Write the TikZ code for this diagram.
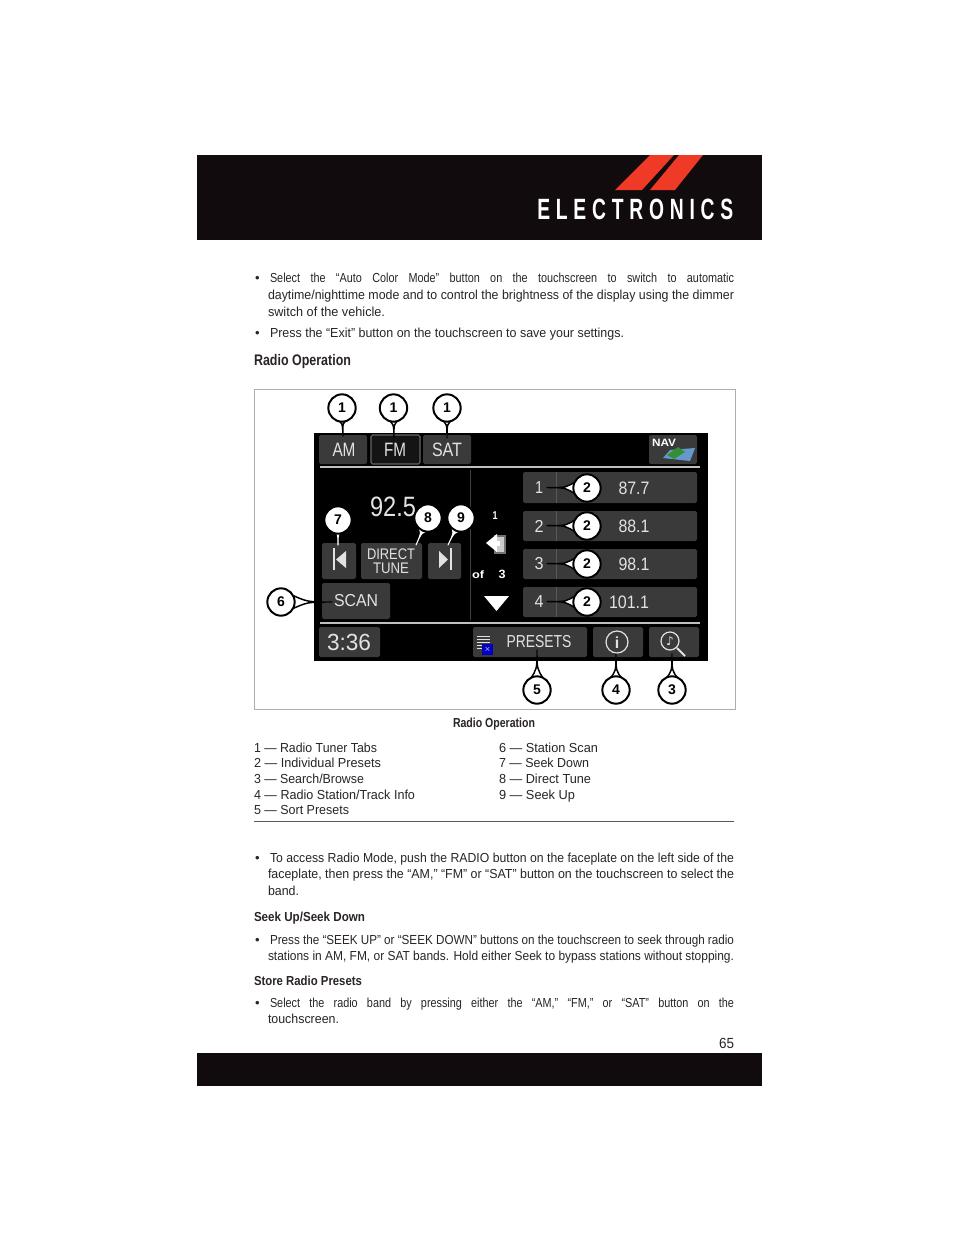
\documentclass[tikz,border=0pt]{standalone}
\usepackage{fontspec}
\usepackage{graphicx}
\setmainfont{Liberation Sans}
\newfontfamily\headfont[LetterSpace=30]{Liberation Sans Bold}
\newfontfamily\symfont{DejaVu Sans}
\usetikzlibrary{calc}
\definecolor{inkc}{HTML}{2A2426}
\definecolor{pagebk}{HTML}{120B0D}
\definecolor{redst}{HTML}{EE3A26}
\definecolor{btn}{HTML}{3A3A3A}
\definecolor{scrtext}{HTML}{E2E2E2}
\newsavebox\fitbox
\newcommand\fitw[2]{\sbox\fitbox{#2}\pgfmathsetmacro\fitr{(#1)*0.75/\the\wd\fitbox}\scalebox{\fitr}[1]{\usebox\fitbox}}
\newcommand\justw[2]{\pgfmathsetlengthmacro\justl{(#1)*0.75pt/0.83}\scalebox{0.83}[1]{\makebox[\justl][s]{#2}}}
\newcommand\tline[5]{\node[txt] (#1) at (#2,#3) {\fitw{#4-#2}{#5}};}
\newcommand\jline[5]{\node[txt] (#1) at (#2,#3) {\justw{#4-#2}{#5}};}
\newcommand\bline[5]{\node[txt] (#1) at (#2,#3) {\fitw{#4-#2}{\bfseries #5}};}
\newcommand\bul[2]{\node[txt] (#1) at (255,#2) {•};}
\newcommand\callout[5][cwedge]{%
 \coordinate (c#2) at (#3); \coordinate (t#2) at (#4);
 \draw[#1] ($(c#2)!9.4pt!36:(t#2)$) .. controls ($(c#2)!.52!(t#2)$) .. (t#2) .. controls ($(c#2)!.52!(t#2)$) .. ($(c#2)!9.4pt!-36:(t#2)$);
 \node[cnum] (n#2) at (c#2) {#5};}
\newcommand\scrtxt[5]{\node[scr,font=\fontsize{#4}{#4}\selectfont] (#1) at (#2,#3) {#5};}
\tikzset{
 txt/.style={anchor=base west,inner sep=0pt,outer sep=0pt,text=inkc,font=\fontsize{9.8}{11}\selectfont},
 btnbox/.style={fill=btn,rounded corners=1.2pt,draw=none},
 scr/.style={inner sep=0pt,outer sep=0pt,text=scrtext},
 cwedge/.style={draw=black,fill=white,line width=1.1pt,line join=round},
 wwedge/.style={draw=white,fill=white,line width=.8pt,line join=round},
 cnum/.style={circle,draw=black,fill=white,line width=1.5pt,minimum size=20.5pt,inner sep=0pt,font=\fontsize{10.5}{10.5}\selectfont\bfseries,text=black},
 icon/.style={fill=scrtext,draw=none},
}
\begin{document}
\begin{tikzpicture}[x=0.75pt,y=-0.75pt]
\useasboundingbox (0,0) rectangle (960,1242);
\fill[white] (0,0) rectangle (960,1242);
% header and footer
\fill[pagebk] (197,155) rectangle (762,240);
\fill[pagebk] (197,1053) rectangle (762,1086);
\fill[redst] (615,190) -- (650,155) -- (674,155) -- (642,190) -- cycle;
\fill[redst] (650,190) -- (679,155) -- (703,155) -- (675,190) -- cycle;
\node[anchor=base west,inner sep=0pt,text=white,font=\fontsize{22}{22}\selectfont\headfont] (title) at (537,219) {\fitw{196}{ELECTRONICS}};
\node[txt,font=\fontsize{11}{12}\selectfont] (pageno) at (719,1048) {\fitw{15}{65}};
% top text
\bul{b1}{282}
\jline{l1}{270}{282}{734}{Select the “Auto Color Mode” button on the touchscreen to switch to automatic}
\tline{l2}{268}{299}{734}{daytime/nighttime mode and to control the brightness of the display using the dimmer}
\tline{l3}{268}{316}{385}{switch of the vehicle.}
\bul{b2}{337}
\tline{l4}{270}{337}{624}{Press the “Exit” button on the touchscreen to save your settings.}
\node[txt,font=\fontsize{11.5}{12}\selectfont] (h1) at (254,365) {\fitw{97}{\bfseries Radio Operation}};
% picture frame
\draw[draw=black!32,line width=.75pt] (254,389) rectangle (735,709);
\fill[black] (313.5,433) rectangle (708,661);
\foreach \n/\xa/\ya/\xb/\yb in {a/319/435/367/464,c/423/435/471/464,d/649/435/697/464,e/523/472/697/503,f/523/511/697/541,g/523/549/697/579,h/523/587/697/617,i/322/543/356/579,j/361/543/422/579,k/428/543/461/579,l/322/583/390/619,m/319/627/380/657,n/473/627/587/657,o/593/627/643/657,p/649/627/699/657}
  \fill[btnbox] (\xa,\ya) rectangle (\xb,\yb);
\draw[black!60!white,line width=.8pt,rounded corners=1.2pt,fill=black!92] (371,435) rectangle (420,464);
\draw[black!25,line width=.9pt] (320,467) -- (700,467);
\draw[black!25,line width=.9pt] (320,623) -- (700,623);
\draw[black!75,line width=.5pt] (470,470) -- (470,620);
\foreach \y/\yy in {472/503,511/541,549/579,587/617} \draw[black!65,line width=.4pt] (556,\y) -- (556,\yy);
% screen labels
\scrtxt{tam}{344}{450}{14.5}{\fitw{23}{AM}}
\scrtxt{tfm}{395}{450}{14.5}{\fitw{22}{FM}}
\scrtxt{tsat}{447}{450}{14.5}{\fitw{30}{SAT}}
\fill[blue!35!teal!60!white] (663,458) -- (670,450) -- (695,448) -- (690,461) -- cycle;
\fill[green!45!black!80!white] (667,455) -- (678,447) -- (685,452) -- (674,459) -- cycle;
\node[scr,text=white,font=\fontsize{8}{8}\selectfont\bfseries] (tnav) at (664,443) {\fitw{24}{NAV}};
\scrtxt{tfreq}{393}{507}{21}{\fitw{46}{92.5}}
\scrtxt{tp1}{539}{488}{13}{\fitw{8}{1}}
\scrtxt{tp2}{539}{526}{13}{\fitw{9}{2}}
\scrtxt{tp3}{539}{564}{13}{\fitw{9}{3}}
\scrtxt{tp4}{539}{602}{13}{\fitw{9}{4}}
\scrtxt{tf1}{634}{488}{13.5}{\fitw{31}{87.7}}
\scrtxt{tf2}{634}{526}{13.5}{\fitw{31}{88.1}}
\scrtxt{tf3}{634}{564}{13.5}{\fitw{31}{98.1}}
\scrtxt{tf4}{629}{602}{13.5}{\fitw{40}{101.1}}
\node[scr,text=white,font=\fontsize{8.5}{8}\selectfont\bfseries] (tone) at (495,516) {\fitw{5}{1}};
\node[scr,text=white,font=\fontsize{8}{8}\selectfont\bfseries] (tof) at (478,575) {\fitw{12}{of}};
\node[scr,text=white,font=\fontsize{9}{8}\selectfont\bfseries] (tthree) at (502,574) {\fitw{7}{3}};
\scrtxt{tdir}{391}{554}{11.5}{\fitw{48}{DIRECT}}
\scrtxt{ttun}{391}{568}{11.5}{\fitw{36}{TUNE}}
\scrtxt{tscan}{356}{601}{13}{\fitw{44}{SCAN}}
\scrtxt{ttime}{349}{642}{17.5}{\fitw{44}{3:36}}
\scrtxt{tpres}{539}{642}{13}{\fitw{65}{PRESETS}}
% icons
\fill[icon] (332.5,548) rectangle (334.5,570);
\fill[icon] (346,551) -- (346,568) -- (336,559.5) -- cycle;
\fill[icon] (450,548) rectangle (452,570);
\fill[icon] (439,551) -- (439,568) -- (448,559.5) -- cycle;
\draw[black!55,line width=1.5pt,fill=black!20] (495,536) rectangle (505,553);
\fill[white] (497,534) -- (497,552) -- (486,543) -- cycle;
\fill[white] (493,541) rectangle (500,546);
\fill[white] (484,596) -- (509,596) -- (496.5,611) -- cycle;
\foreach \y in {636,639,642,645,648} \fill[scrtext] (477,\y) rectangle (490,\y+1.3);
\fill[blue!75!black] (482,644) rectangle (493,655);
\node[scr,text=white!70!blue,font=\fontsize{7}{7}\selectfont] (tx) at (487.5,649.5) {×};
\draw[scrtext,line width=.9pt] (617,642) circle (11);
\node[scr,font=\fontsize{12}{12}\selectfont\bfseries] (tinfo) at (617,642.5) {i};
\draw[scrtext,line width=.9pt] (670,641) circle (9);
\draw[scrtext,line width=1.5pt] (677,648) -- (685,656);
\node[scr,font=\fontsize{9}{9}\selectfont\symfont] (tnote) at (670,641) {♪};
% callouts
\callout{a}{342,408}{343,436}{1}
\callout{b}{393.5,408}{394,438}{1}
\callout{c}{447,408}{447,438}{1}
\callout{d}{587,488}{547,487.5}{2}
\callout{e}{587,526}{547,525.5}{2}
\callout{f}{587,564}{547,563.5}{2}
\callout{g}{587,602}{547,601.5}{2}
\callout[wwedge]{h}{338,520}{338,545}{7}
\callout[wwedge]{i}{428,518}{416,545}{8}
\callout[wwedge]{j}{461,518}{448,545}{9}
\callout{k}{281,602}{332,602}{6}
\callout{l}{537,690}{537,650}{5}
\callout{m}{616,690}{616,654}{4}
\callout{n}{672,690}{672,654}{3}
% caption and legend
\bline{cap}{453}{727}{535}{Radio Operation}
\tline{la}{254}{752}{377}{1 — Radio Tuner Tabs}
\tline{lb}{254}{767.5}{381}{2 — Individual Presets}
\tline{lc}{254}{783}{364}{3 — Search/Browse}
\tline{ld}{254}{799}{415}{4 — Radio Station/Track Info}
\tline{le}{254}{814.5}{349}{5 — Sort Presets}
\tline{lf}{499}{752}{598}{6 — Station Scan}
\tline{lg}{499}{767.5}{589}{7 — Seek Down}
\tline{lh}{499}{783}{591}{8 — Direct Tune}
\tline{li}{499}{799}{575}{9 — Seek Up}
\draw[black!65,line width=.75pt] (254,821) -- (734,821);
% lower text
\bul{b3}{862}
\tline{m1}{270}{862}{734}{To access Radio Mode, push the RADIO button on the faceplate on the left side of the}
\tline{m2}{268}{878}{734}{faceplate, then press the “AM,” “FM” or “SAT” button on the touchscreen to select the}
\tline{m3}{268}{895}{299}{band.}
\bline{m4}{254}{921}{365}{Seek Up/Seek Down}
\bul{b4}{944}
\tline{m5}{270}{944}{734}{Press the “SEEK UP” or “SEEK DOWN” buttons on the touchscreen to seek through radio}
\tline{m6}{268}{960}{734}{stations in AM, FM, or SAT bands. Hold either Seek to bypass stations without stopping.}
\bline{m7}{254}{985}{362}{Store Radio Presets}
\bul{b5}{1007}
\jline{m8}{270}{1007}{734}{Select the radio band by pressing either the “AM,” “FM,” or “SAT” button on the}
\tline{m9}{268}{1023}{339}{touchscreen.}
\end{tikzpicture}
\end{document}
